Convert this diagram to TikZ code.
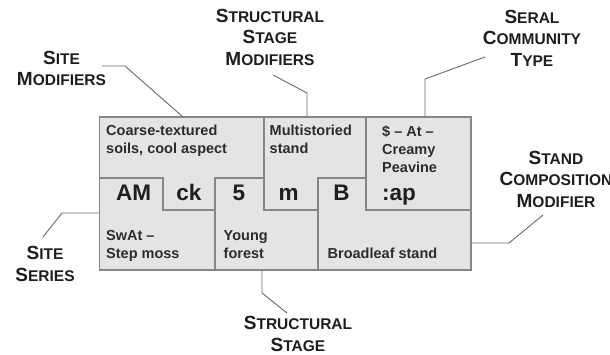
\documentclass[tikz,border=0pt]{standalone}
\usepackage{fontspec}
\setmainfont{Liberation Sans}
\definecolor{boxfill}{HTML}{E4E4E4}
\definecolor{boxline}{HTML}{878787}
\definecolor{ink}{HTML}{1E1E1E}
\definecolor{bodyink}{HTML}{2C2C2C}
\definecolor{leader}{HTML}{6A6A6A}
\tikzset{
  panel/.style={fill=boxfill, draw=boxline, line width=1.1pt, line join=miter},
  bodytext/.style={anchor=base west, inner sep=0pt, align=left, text=bodyink,
    font=\bfseries\fontsize{14.5}{18}\selectfont},
  codetext/.style={anchor=base, inner sep=0pt, text=ink,
    font=\bfseries\fontsize{22.5}{24}\selectfont},
  codeleft/.style={codetext, anchor=base west},
  caption/.style={anchor=base, inner sep=0pt, align=center, text=ink,
    font=\bfseries\fontsize{19}{21.5}\selectfont},
  leaderline/.style={draw=leader, line width=0.9pt},
}
% small-caps word: large initial, smaller capitals after it
\newcommand\capsword[2]{#1{\fontsize{15.5}{21.5}\selectfont #2}}
\begin{document}
\begin{tikzpicture}[x=1pt, y=-1pt]
  \useasboundingbox (0,0) rectangle (610,354);
  \fill[white] (0,0) rectangle (610,354);

  % grid of the code card
  \def\L{99.5}\def\R{471}\def\T{117}\def\B{270}
  \def\ra{178}\def\rb{210}
  \def\ca{163}\def\cb{215}\def\cc{264}\def\cd{318}\def\ce{366}

  % site modifiers
  \draw[panel] (\L,\T) -- (\cc,\T) -- (\cc,\ra) -- (\cb,\ra) -- (\cb,\rb)
    -- (\ca,\rb) -- (\ca,\ra) -- (\L,\ra) -- cycle;
  % structural stage modifiers
  \draw[panel] (\cc,\T) -- (\ce,\T) -- (\ce,\ra) -- (\cd,\ra) -- (\cd,\rb)
    -- (\cc,\rb) -- cycle;
  % seral community type
  \draw[panel] (\ce,\T) rectangle (\R,\rb);
  % site series
  \draw[panel] (\L,\ra) -- (\ca,\ra) -- (\ca,\rb) -- (\cb,\rb) -- (\cb,\B)
    -- (\L,\B) -- cycle;
  % structural stage
  \draw[panel] (\cb,\ra) -- (\cc,\ra) -- (\cc,\rb) -- (\cd,\rb) -- (\cd,\B)
    -- (\cb,\B) -- cycle;
  % stand composition modifier
  \draw[panel] (\cd,\ra) -- (\ce,\ra) -- (\ce,\rb) -- (\R,\rb) -- (\R,\B)
    -- (\cd,\B) -- cycle;

  % descriptions (placed by the baseline of their last line)
  \node[bodytext] (tsoil)  at (106,153) {Coarse-textured\\soils, cool aspect};
  \node[bodytext] (tmulti) at (269.5,153) {Multistoried\\stand};
  \node[bodytext] (tseral) at (382,172) {\$ -- At --\\Creamy\\Peavine};
  \node[bodytext] (tswat)  at (106,258) {SwAt --\\Step moss};
  \node[bodytext] (tyoung) at (223.5,258) {Young\\forest};
  \node[bodytext] (tbroad) at (327.5,258) {Broadleaf stand};

  % codes
  \node[codetext] (cam) at (133.5,200.5) {AM};
  \node[codetext] (cck) at (189,200.5) {ck};
  \node[codetext] (cfive) at (239,200.5) {5};
  \node[codetext] (cm) at (288.5,200.5) {m};
  \node[codetext] (cbl) at (341.5,200.5) {B};
  \node[codeleft] (cap) at (382,200.5) {:ap};

  % captions (placed by the baseline of their last line)
  \node[caption] (lsitemod) at (61.5,85.5) {\capsword{S}{ITE}\\\capsword{M}{ODIFIERS}};
  \node[caption] (lstagemod) at (270,65) {\capsword{S}{TRUCTURAL}\\\capsword{S}{TAGE}\\\capsword{M}{ODIFIERS}};
  \node[caption] (lseral) at (532,66) {\capsword{S}{ERAL}\\\capsword{C}{OMMUNITY}\\\capsword{T}{YPE}};
  \node[caption] (lstand) at (556,207) {\capsword{S}{TAND}\\\capsword{C}{OMPOSITION}\\\capsword{M}{ODIFIER}};
  \node[caption] (lseries) at (45,281) {\capsword{S}{ITE}\\\capsword{S}{ERIES}};
  \node[caption] (lstage) at (298,351) {\capsword{S}{TRUCTURAL}\\\capsword{S}{TAGE}};

  % leader points
  \coordinate (smA) at (102,66);   \coordinate (smB) at (125,66);   \coordinate (smC) at (183,\T);
  \coordinate (sgA) at (273,75);   \coordinate (sgB) at (307,93);   \coordinate (sgC) at (307,\T);
  \coordinate (scA) at (485,57);   \coordinate (scB) at (425,79);   \coordinate (scC) at (425,\T);
  \coordinate (cmA) at (543,215);  \coordinate (cmB) at (509,243);  \coordinate (cmC) at (\R,243);
  \coordinate (ssA) at (43,237);   \coordinate (ssB) at (62,213);   \coordinate (ssC) at (\L,213);
  \coordinate (stA) at (287,313);  \coordinate (stB) at (262,293);  \coordinate (stC) at (262,\B);

  % leaders
  \draw[leaderline] (smA) -- (smB) -- (smC);
  \draw[leaderline] (sgA) -- (sgB) -- (sgC);
  \draw[leaderline] (scA) -- (scB) -- (scC);
  \draw[leaderline] (cmA) -- (cmB) -- (cmC);
  \draw[leaderline] (ssA) -- (ssB) -- (ssC);
  \draw[leaderline] (stA) -- (stB) -- (stC);
\end{tikzpicture}
\end{document}
